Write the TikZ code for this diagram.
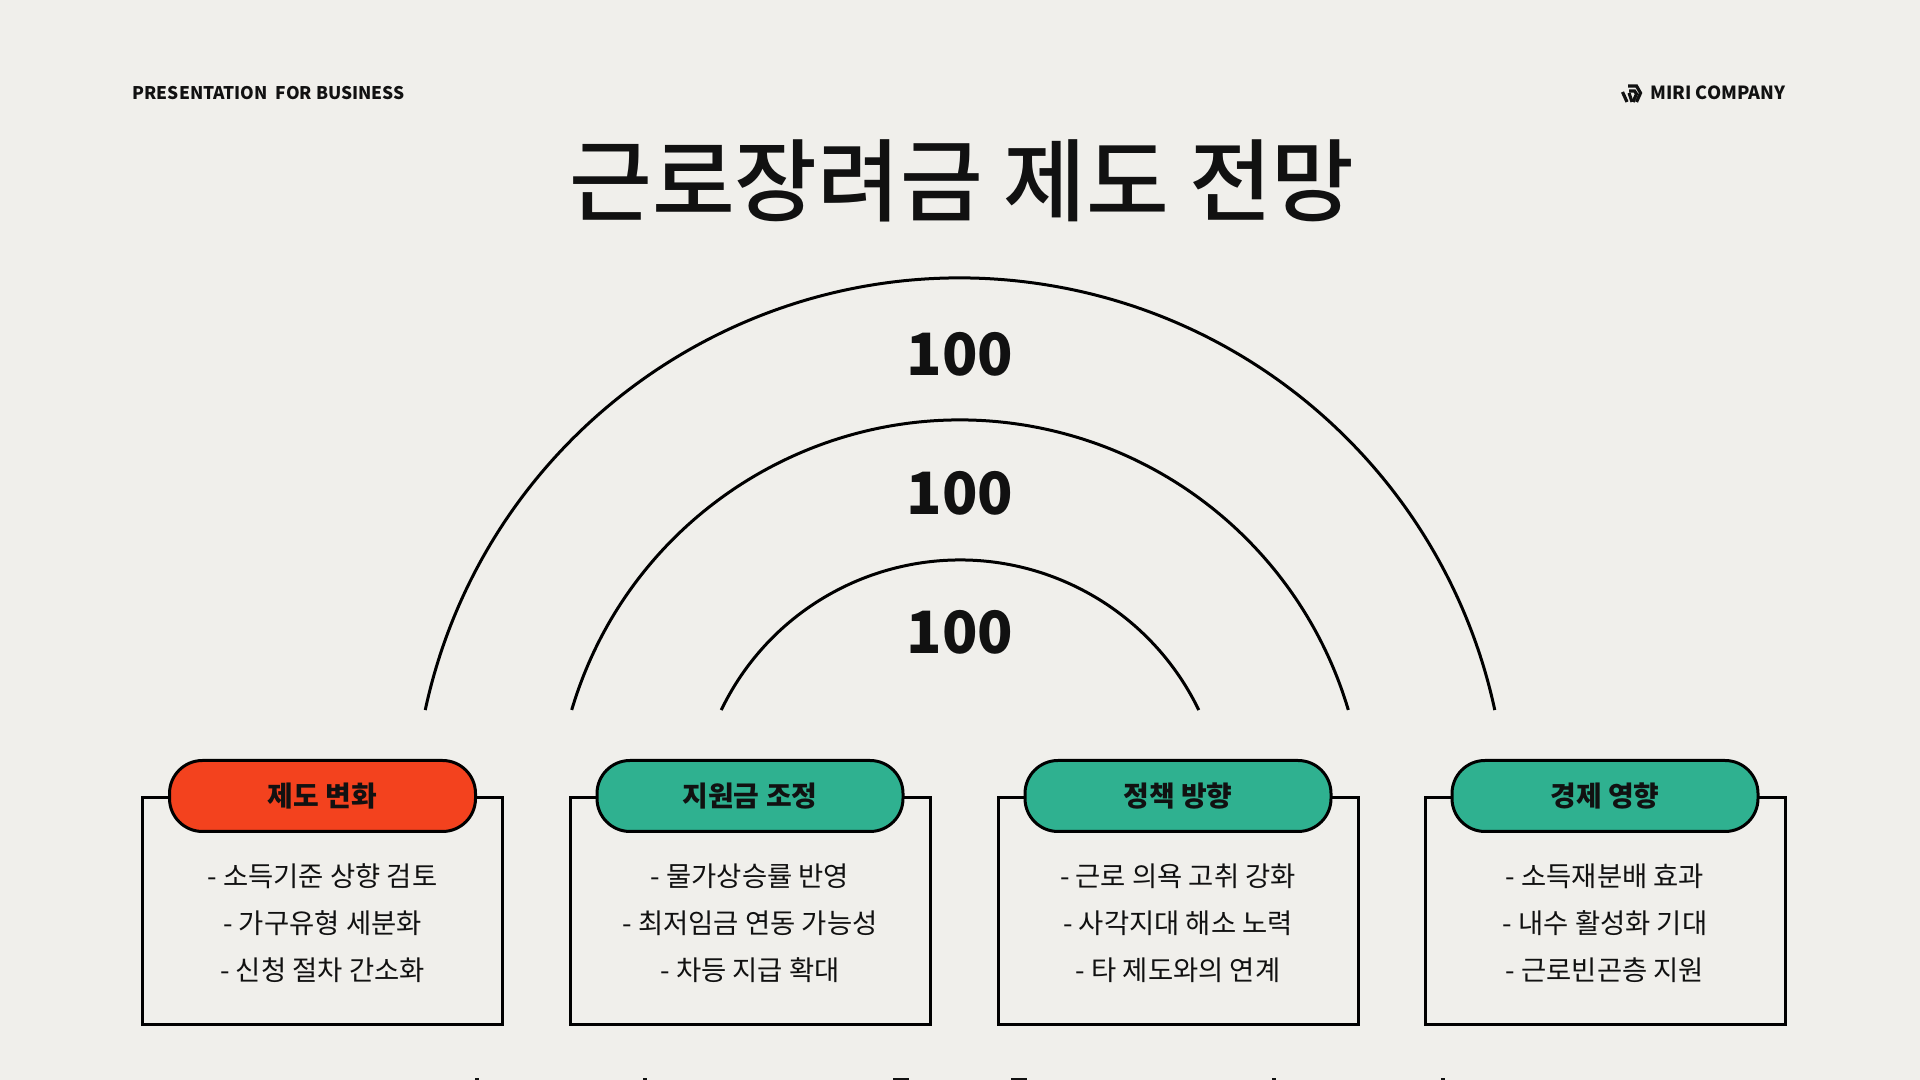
\documentclass[tikz,border=0pt]{standalone}
\usepackage{fontspec}
\setmainfont{Noto Sans CJK KR}
\newfontfamily\medfont{Noto Sans CJK KR Medium}
\usepackage{tikz}
\definecolor{paper}{HTML}{F0EFEB}
\definecolor{tagred}{HTML}{F3421E}
\definecolor{taggreen}{HTML}{2FB190}
\definecolor{ink}{HTML}{111111}
\tikzset{
  card/.style={draw=black,line width=0.03cm,fill=paper,minimum width=3.6cm,minimum height=2.27cm},
  tag/.style={draw=black,line width=0.03cm,rounded corners=0.33cm,minimum width=3.06cm,minimum height=0.71cm,font=\fontsize{7.95}{9}\selectfont\bfseries,text=ink},
  bodytext/.style={align=center,text=ink,font=\fontsize{7.8}{13.4}\selectfont},
  score/.style={font=\fontsize{16.6}{20}\selectfont\bfseries,text=ink},
  header/.style={font=\fontsize{5.15}{7}\selectfont\bfseries,text=ink,inner sep=0pt},
  logo/.style={ink,line width=0.032cm}
}
\begin{document}
\begin{tikzpicture}
\useasboundingbox (0,0) rectangle (19.2,10.8);
\fill[paper](0,0) rectangle (19.2,10.8);
% header
\node[header,anchor=west,font=\fontsize{4.95}{7}\selectfont\bfseries] (left) at (1.32,9.87){PRESENTATION\ \ FOR BUSINESS};
\node[header,anchor=east] (right) at (17.86,9.87){MIRI COMPANY};
\draw[logo](16.28,9.94)--(16.365,9.94)--(16.405,9.87)--(16.365,9.78);
\draw[logo](16.225,9.88)--(16.27,9.78);
\draw[logo](16.29,9.89)--(16.345,9.89)--(16.365,9.86)--(16.33,9.78);
\draw[logo](16.29,9.87)--(16.32,9.78);
\node[font=\fontsize{25.6}{28}\medfont,text=ink] (title) at (9.62,8.99){근로장려금 제도 전망};
% arcs
\foreach \r/\a/\y/\n in {5.47/12.13/7.26/outer,4.05/16.5/5.87/middle,2.65/25.7/4.48/inner}{
  \draw[line width=0.03cm] (9.6,2.55)++(180-\a:\r) arc (180-\a:\a:\r);
  \node[score] (\n) at (9.6,\y){100};
}
% cards
\foreach \x/\c/\t/\la/\lb/\lc/\n in {
  3.225/tagred/제도 변화/소득기준 상향 검토/가구유형 세분화/신청 절차 간소화/a,
  7.5/taggreen/지원금 조정/물가상승률 반영/최저임금 연동 가능성/차등 지급 확대/b,
  11.78/taggreen/정책 방향/근로 의욕 고취 강화/사각지대 해소 노력/타 제도와의 연계/c,
  16.05/taggreen/경제 영향/소득재분배 효과/내수 활성화 기대/근로빈곤층 지원/d}{
  \node[card] (box\n) at (\x,1.685){};
  \node[tag,fill=\c] (tag\n) at (\x,2.84){\t};
  \node[bodytext] (text\n) at (\x,1.57){- \la\\- \lb\\- \lc};
}
% cut off line at the lower edge
\foreach \x in {4.77,6.45,12.74,14.43}{
  \fill[ink](\x-0.02,0) rectangle (\x+0.02,0.02);
}
\foreach \x in {9.01,10.19}{
  \fill[ink](\x-0.08,0) rectangle (\x+0.08,0.015);
}
\end{tikzpicture}
\end{document}
